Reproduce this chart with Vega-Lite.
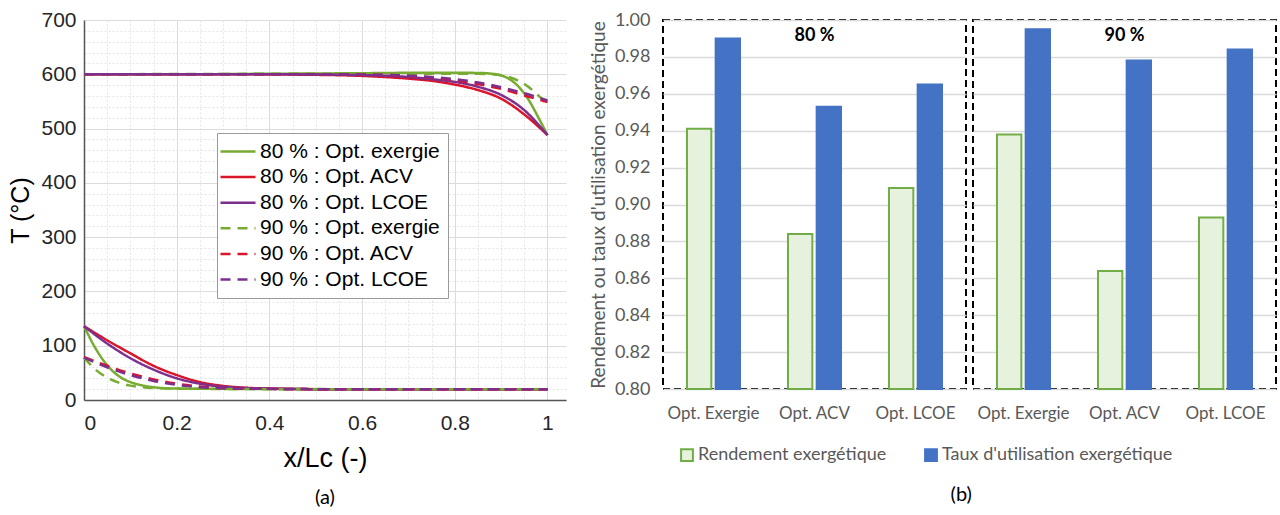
{
  "$schema": "https://vega.github.io/schema/vega-lite/v6.json",
  "background": "white",
  "padding": {"left": 8, "top": 9, "right": 0, "bottom": 0},
  "spacing": 23,
  "config": {"view": {"stroke": null}, "font": "Liberation Sans"},
  "resolve": {
    "scale": {"x": "independent", "y": "independent", "color": "independent", "strokeDash": "independent", "fill": "independent", "stroke": "independent", "xOffset": "independent"},
    "axis": {"x": "independent", "y": "independent"},
    "legend": {"color": "independent", "strokeDash": "independent", "fill": "independent", "stroke": "independent"}
  },
  "hconcat": [
    {
      "width": 482,
      "height": 380,
      "title": {"text": "(a)", "orient": "bottom", "anchor": "middle", "font": "Lato", "fontSize": 20, "fontWeight": "normal", "color": "#000000", "offset": 17},
      "data": {"values": [
        {"s": "80 % : Opt. exergie", "c": "hot", "x": 0, "T": 600},
        {"s": "80 % : Opt. exergie", "c": "hot", "x": 0.2, "T": 600},
        {"s": "80 % : Opt. exergie", "c": "hot", "x": 0.4, "T": 601},
        {"s": "80 % : Opt. exergie", "c": "hot", "x": 0.6, "T": 602},
        {"s": "80 % : Opt. exergie", "c": "hot", "x": 0.75, "T": 603},
        {"s": "80 % : Opt. exergie", "c": "hot", "x": 0.85, "T": 602.5},
        {"s": "80 % : Opt. exergie", "c": "hot", "x": 0.88, "T": 601},
        {"s": "80 % : Opt. exergie", "c": "hot", "x": 0.9, "T": 598},
        {"s": "80 % : Opt. exergie", "c": "hot", "x": 0.92, "T": 590},
        {"s": "80 % : Opt. exergie", "c": "hot", "x": 0.94, "T": 575},
        {"s": "80 % : Opt. exergie", "c": "hot", "x": 0.96, "T": 552},
        {"s": "80 % : Opt. exergie", "c": "hot", "x": 0.98, "T": 521},
        {"s": "80 % : Opt. exergie", "c": "hot", "x": 1, "T": 488},
        {"s": "80 % : Opt. exergie", "c": "cold", "x": 0, "T": 136},
        {"s": "80 % : Opt. exergie", "c": "cold", "x": 0.025, "T": 95},
        {"s": "80 % : Opt. exergie", "c": "cold", "x": 0.05, "T": 64},
        {"s": "80 % : Opt. exergie", "c": "cold", "x": 0.075, "T": 44},
        {"s": "80 % : Opt. exergie", "c": "cold", "x": 0.1, "T": 33},
        {"s": "80 % : Opt. exergie", "c": "cold", "x": 0.125, "T": 27},
        {"s": "80 % : Opt. exergie", "c": "cold", "x": 0.15, "T": 23.5},
        {"s": "80 % : Opt. exergie", "c": "cold", "x": 0.2, "T": 21},
        {"s": "80 % : Opt. exergie", "c": "cold", "x": 0.3, "T": 20.5},
        {"s": "80 % : Opt. exergie", "c": "cold", "x": 0.6, "T": 20},
        {"s": "80 % : Opt. exergie", "c": "cold", "x": 1, "T": 20},

        {"s": "80 % : Opt. ACV", "c": "hot", "x": 0, "T": 600},
        {"s": "80 % : Opt. ACV", "c": "hot", "x": 0.3, "T": 600},
        {"s": "80 % : Opt. ACV", "c": "hot", "x": 0.5, "T": 599},
        {"s": "80 % : Opt. ACV", "c": "hot", "x": 0.6, "T": 597},
        {"s": "80 % : Opt. ACV", "c": "hot", "x": 0.7, "T": 592},
        {"s": "80 % : Opt. ACV", "c": "hot", "x": 0.75, "T": 588},
        {"s": "80 % : Opt. ACV", "c": "hot", "x": 0.8, "T": 581},
        {"s": "80 % : Opt. ACV", "c": "hot", "x": 0.85, "T": 571},
        {"s": "80 % : Opt. ACV", "c": "hot", "x": 0.9, "T": 555},
        {"s": "80 % : Opt. ACV", "c": "hot", "x": 0.95, "T": 526},
        {"s": "80 % : Opt. ACV", "c": "hot", "x": 1, "T": 488},
        {"s": "80 % : Opt. ACV", "c": "cold", "x": 0, "T": 136},
        {"s": "80 % : Opt. ACV", "c": "cold", "x": 0.05, "T": 110},
        {"s": "80 % : Opt. ACV", "c": "cold", "x": 0.1, "T": 86},
        {"s": "80 % : Opt. ACV", "c": "cold", "x": 0.15, "T": 63},
        {"s": "80 % : Opt. ACV", "c": "cold", "x": 0.2, "T": 46},
        {"s": "80 % : Opt. ACV", "c": "cold", "x": 0.25, "T": 33},
        {"s": "80 % : Opt. ACV", "c": "cold", "x": 0.3, "T": 26},
        {"s": "80 % : Opt. ACV", "c": "cold", "x": 0.35, "T": 22.5},
        {"s": "80 % : Opt. ACV", "c": "cold", "x": 0.4, "T": 21},
        {"s": "80 % : Opt. ACV", "c": "cold", "x": 0.5, "T": 20},
        {"s": "80 % : Opt. ACV", "c": "cold", "x": 1, "T": 20},

        {"s": "80 % : Opt. LCOE", "c": "hot", "x": 0, "T": 600},
        {"s": "80 % : Opt. LCOE", "c": "hot", "x": 0.4, "T": 600},
        {"s": "80 % : Opt. LCOE", "c": "hot", "x": 0.6, "T": 598.5},
        {"s": "80 % : Opt. LCOE", "c": "hot", "x": 0.7, "T": 595},
        {"s": "80 % : Opt. LCOE", "c": "hot", "x": 0.75, "T": 591},
        {"s": "80 % : Opt. LCOE", "c": "hot", "x": 0.8, "T": 586},
        {"s": "80 % : Opt. LCOE", "c": "hot", "x": 0.85, "T": 577},
        {"s": "80 % : Opt. LCOE", "c": "hot", "x": 0.9, "T": 562},
        {"s": "80 % : Opt. LCOE", "c": "hot", "x": 0.95, "T": 534},
        {"s": "80 % : Opt. LCOE", "c": "hot", "x": 1, "T": 488},
        {"s": "80 % : Opt. LCOE", "c": "cold", "x": 0, "T": 136},
        {"s": "80 % : Opt. LCOE", "c": "cold", "x": 0.05, "T": 104},
        {"s": "80 % : Opt. LCOE", "c": "cold", "x": 0.1, "T": 77},
        {"s": "80 % : Opt. LCOE", "c": "cold", "x": 0.15, "T": 56},
        {"s": "80 % : Opt. LCOE", "c": "cold", "x": 0.2, "T": 40},
        {"s": "80 % : Opt. LCOE", "c": "cold", "x": 0.25, "T": 30},
        {"s": "80 % : Opt. LCOE", "c": "cold", "x": 0.3, "T": 24.5},
        {"s": "80 % : Opt. LCOE", "c": "cold", "x": 0.35, "T": 22},
        {"s": "80 % : Opt. LCOE", "c": "cold", "x": 0.4, "T": 21},
        {"s": "80 % : Opt. LCOE", "c": "cold", "x": 0.5, "T": 20},
        {"s": "80 % : Opt. LCOE", "c": "cold", "x": 1, "T": 20},

        {"s": "90 % : Opt. exergie", "c": "hot", "x": 0, "T": 600},
        {"s": "90 % : Opt. exergie", "c": "hot", "x": 0.6, "T": 601},
        {"s": "90 % : Opt. exergie", "c": "hot", "x": 0.85, "T": 601},
        {"s": "90 % : Opt. exergie", "c": "hot", "x": 0.88, "T": 600},
        {"s": "90 % : Opt. exergie", "c": "hot", "x": 0.9, "T": 598},
        {"s": "90 % : Opt. exergie", "c": "hot", "x": 0.92, "T": 594},
        {"s": "90 % : Opt. exergie", "c": "hot", "x": 0.94, "T": 587},
        {"s": "90 % : Opt. exergie", "c": "hot", "x": 0.96, "T": 576},
        {"s": "90 % : Opt. exergie", "c": "hot", "x": 0.98, "T": 561},
        {"s": "90 % : Opt. exergie", "c": "hot", "x": 1, "T": 544},
        {"s": "90 % : Opt. exergie", "c": "cold", "x": 0, "T": 78},
        {"s": "90 % : Opt. exergie", "c": "cold", "x": 0.025, "T": 56},
        {"s": "90 % : Opt. exergie", "c": "cold", "x": 0.05, "T": 41},
        {"s": "90 % : Opt. exergie", "c": "cold", "x": 0.075, "T": 32},
        {"s": "90 % : Opt. exergie", "c": "cold", "x": 0.1, "T": 26.5},
        {"s": "90 % : Opt. exergie", "c": "cold", "x": 0.125, "T": 23.5},
        {"s": "90 % : Opt. exergie", "c": "cold", "x": 0.15, "T": 22},
        {"s": "90 % : Opt. exergie", "c": "cold", "x": 0.2, "T": 21},
        {"s": "90 % : Opt. exergie", "c": "cold", "x": 0.4, "T": 20},
        {"s": "90 % : Opt. exergie", "c": "cold", "x": 1, "T": 20},

        {"s": "90 % : Opt. ACV", "c": "hot", "x": 0, "T": 600},
        {"s": "90 % : Opt. ACV", "c": "hot", "x": 0.5, "T": 600},
        {"s": "90 % : Opt. ACV", "c": "hot", "x": 0.6, "T": 599.5},
        {"s": "90 % : Opt. ACV", "c": "hot", "x": 0.7, "T": 597},
        {"s": "90 % : Opt. ACV", "c": "hot", "x": 0.75, "T": 594},
        {"s": "90 % : Opt. ACV", "c": "hot", "x": 0.8, "T": 589},
        {"s": "90 % : Opt. ACV", "c": "hot", "x": 0.85, "T": 582},
        {"s": "90 % : Opt. ACV", "c": "hot", "x": 0.9, "T": 573},
        {"s": "90 % : Opt. ACV", "c": "hot", "x": 0.95, "T": 561},
        {"s": "90 % : Opt. ACV", "c": "hot", "x": 1, "T": 549},
        {"s": "90 % : Opt. ACV", "c": "cold", "x": 0, "T": 79},
        {"s": "90 % : Opt. ACV", "c": "cold", "x": 0.05, "T": 63},
        {"s": "90 % : Opt. ACV", "c": "cold", "x": 0.1, "T": 49},
        {"s": "90 % : Opt. ACV", "c": "cold", "x": 0.15, "T": 38},
        {"s": "90 % : Opt. ACV", "c": "cold", "x": 0.2, "T": 30},
        {"s": "90 % : Opt. ACV", "c": "cold", "x": 0.25, "T": 25},
        {"s": "90 % : Opt. ACV", "c": "cold", "x": 0.3, "T": 22},
        {"s": "90 % : Opt. ACV", "c": "cold", "x": 0.4, "T": 20.5},
        {"s": "90 % : Opt. ACV", "c": "cold", "x": 0.5, "T": 20},
        {"s": "90 % : Opt. ACV", "c": "cold", "x": 1, "T": 20},

        {"s": "90 % : Opt. LCOE", "c": "hot", "x": 0, "T": 600},
        {"s": "90 % : Opt. LCOE", "c": "hot", "x": 0.5, "T": 600},
        {"s": "90 % : Opt. LCOE", "c": "hot", "x": 0.6, "T": 599.5},
        {"s": "90 % : Opt. LCOE", "c": "hot", "x": 0.7, "T": 597.5},
        {"s": "90 % : Opt. LCOE", "c": "hot", "x": 0.75, "T": 595},
        {"s": "90 % : Opt. LCOE", "c": "hot", "x": 0.8, "T": 591},
        {"s": "90 % : Opt. LCOE", "c": "hot", "x": 0.85, "T": 585},
        {"s": "90 % : Opt. LCOE", "c": "hot", "x": 0.9, "T": 576},
        {"s": "90 % : Opt. LCOE", "c": "hot", "x": 0.95, "T": 565},
        {"s": "90 % : Opt. LCOE", "c": "hot", "x": 1, "T": 552},
        {"s": "90 % : Opt. LCOE", "c": "cold", "x": 0, "T": 78},
        {"s": "90 % : Opt. LCOE", "c": "cold", "x": 0.05, "T": 60},
        {"s": "90 % : Opt. LCOE", "c": "cold", "x": 0.1, "T": 46},
        {"s": "90 % : Opt. LCOE", "c": "cold", "x": 0.15, "T": 35},
        {"s": "90 % : Opt. LCOE", "c": "cold", "x": 0.2, "T": 28},
        {"s": "90 % : Opt. LCOE", "c": "cold", "x": 0.25, "T": 23.5},
        {"s": "90 % : Opt. LCOE", "c": "cold", "x": 0.3, "T": 21.5},
        {"s": "90 % : Opt. LCOE", "c": "cold", "x": 0.4, "T": 20.5},
        {"s": "90 % : Opt. LCOE", "c": "cold", "x": 0.5, "T": 20},
        {"s": "90 % : Opt. LCOE", "c": "cold", "x": 1, "T": 20}
      ]},
      "resolve": {"axis": {"x": "independent", "y": "independent"}},
      "layer": [
        {
          "mark": {"type": "point", "opacity": 0},
          "encoding": {
            "x": {"field": "x", "type": "quantitative", "scale": {"domain": [0, 1.04], "nice": false},
              "axis": {"orient": "bottom", "values": [0.05, 0.1, 0.15, 0.25, 0.3, 0.35, 0.45, 0.5, 0.55, 0.65, 0.7, 0.75, 0.85, 0.9, 0.95], "grid": true, "gridColor": "#e4e4e4", "gridDash": [2, 2], "gridWidth": 1, "labels": false, "ticks": false, "domain": false, "title": null}},
            "y": {"field": "T", "type": "quantitative", "scale": {"domain": [0, 700], "nice": false},
              "axis": {"orient": "left", "values": [20, 40, 60, 80, 120, 140, 160, 180, 220, 240, 260, 280, 320, 340, 360, 380, 420, 440, 460, 480, 520, 540, 560, 580, 620, 640, 660, 680], "grid": true, "gridColor": "#e4e4e4", "gridDash": [2, 2], "gridWidth": 1, "labels": false, "ticks": false, "domain": false, "title": null}}
          }
        },
        {
          "mark": {"type": "line", "strokeWidth": 2.5, "interpolate": "monotone"},
          "encoding": {
            "x": {"field": "x", "type": "quantitative", "scale": {"domain": [0, 1.04], "nice": false},
              "axis": {"orient": "bottom", "values": [0, 0.2, 0.4, 0.6, 0.8, 1], "format": "~g", "grid": true, "gridColor": "#dcdcdc", "gridWidth": 1, "ticks": false, "domainColor": "#555555", "domainWidth": 1.5, "labelFont": "Liberation Sans", "labelFontSize": 21, "labelColor": "#262626", "labelPadding": 12, "title": "x/Lc (-)", "titleFont": "Liberation Sans", "titleFontSize": 27, "titleFontWeight": "normal", "titleColor": "#000000", "titlePadding": 12}},
            "y": {"field": "T", "type": "quantitative", "scale": {"domain": [0, 700], "nice": false},
              "axis": {"orient": "left", "values": [0, 100, 200, 300, 400, 500, 600, 700], "grid": true, "gridColor": "#dcdcdc", "gridWidth": 1, "ticks": false, "domainColor": "#555555", "domainWidth": 1.5, "labelFont": "Liberation Sans", "labelFontSize": 21, "labelColor": "#262626", "labelPadding": 8, "title": "T (°C)", "titleFont": "Liberation Sans", "titleFontSize": 25, "titleFontWeight": "normal", "titleColor": "#000000", "titlePadding": 7}},
            "detail": {"field": "c", "type": "nominal"},
            "color": {"field": "s", "type": "nominal",
              "scale": {"domain": ["80 % : Opt. exergie", "80 % : Opt. ACV", "80 % : Opt. LCOE", "90 % : Opt. exergie", "90 % : Opt. ACV", "90 % : Opt. LCOE"], "range": ["#77ac30", "#d9152b", "#7e2f8e", "#77ac30", "#d9152b", "#7e2f8e"]},
              "legend": {"orient": "none", "legendX": 133, "legendY": 113, "title": null, "symbolType": "M-3,0H4", "symbolSize": 100, "symbolStrokeWidth": 2.5, "labelFont": "Liberation Sans", "labelFontSize": 21, "labelColor": "#000000", "labelOffset": 14, "rowPadding": 3.6, "padding": 8, "strokeColor": "#9a9a9a", "fillColor": "#ffffff", "labelLimit": 400}},
            "strokeDash": {"field": "s", "type": "nominal",
              "scale": {"domain": ["80 % : Opt. exergie", "80 % : Opt. ACV", "80 % : Opt. LCOE", "90 % : Opt. exergie", "90 % : Opt. ACV", "90 % : Opt. LCOE"], "range": [[1, 0], [1, 0], [1, 0], [10, 7], [10, 7], [10, 7]]},
              "legend": {"orient": "none", "legendX": 133, "legendY": 113, "title": null, "symbolType": "M-3,0H4", "symbolSize": 100, "symbolStrokeWidth": 2.5, "labelFont": "Liberation Sans", "labelFontSize": 21, "labelColor": "#000000", "labelOffset": 14, "rowPadding": 3.6, "padding": 8, "strokeColor": "#9a9a9a", "fillColor": "#ffffff", "labelLimit": 400}}
          }
        }
      ]
    },
    {
      "data": {"values": [
        {"groupe": "80 %", "option": "Opt. Exergie", "mesure": "Rendement exergétique", "valeur": 0.941},
        {"groupe": "80 %", "option": "Opt. Exergie", "mesure": "Taux d'utilisation exergétique", "valeur": 0.990},
        {"groupe": "80 %", "option": "Opt. ACV", "mesure": "Rendement exergétique", "valeur": 0.884},
        {"groupe": "80 %", "option": "Opt. ACV", "mesure": "Taux d'utilisation exergétique", "valeur": 0.953},
        {"groupe": "80 %", "option": "Opt. LCOE", "mesure": "Rendement exergétique", "valeur": 0.909},
        {"groupe": "80 %", "option": "Opt. LCOE", "mesure": "Taux d'utilisation exergétique", "valeur": 0.965},
        {"groupe": "90 %", "option": "Opt. Exergie", "mesure": "Rendement exergétique", "valeur": 0.938},
        {"groupe": "90 %", "option": "Opt. Exergie", "mesure": "Taux d'utilisation exergétique", "valeur": 0.995},
        {"groupe": "90 %", "option": "Opt. ACV", "mesure": "Rendement exergétique", "valeur": 0.864},
        {"groupe": "90 %", "option": "Opt. ACV", "mesure": "Taux d'utilisation exergétique", "valeur": 0.978},
        {"groupe": "90 %", "option": "Opt. LCOE", "mesure": "Rendement exergétique", "valeur": 0.893},
        {"groupe": "90 %", "option": "Opt. LCOE", "mesure": "Taux d'utilisation exergétique", "valeur": 0.984}
      ]},
      "title": {"text": "(b)", "orient": "bottom", "anchor": "middle", "dx": 28, "font": "Lato", "fontSize": 20, "fontWeight": "normal", "color": "#000000", "offset": 20},
      "facet": {"column": {"field": "groupe", "type": "nominal", "header": null, "sort": ["80 %", "90 %"]}},
      "spacing": 5,
      "spec": {
        "width": 303,
        "height": 369,
        "view": {"stroke": "#000000", "strokeDash": [7, 4], "strokeWidth": 2},
        "layer": [
          {
            "mark": {"type": "bar", "strokeWidth": 2},
            "encoding": {
              "x": {"field": "option", "type": "nominal", "sort": ["Opt. Exergie", "Opt. ACV", "Opt. LCOE"],
                "scale": {"paddingInner": 0.475, "paddingOuter": 0.2375},
                "axis": {"labelAngle": 0, "ticks": false, "domain": false, "title": null, "labelFont": "Lato", "labelFontSize": 17, "labelColor": "#595959", "labelPadding": 14}},
              "xOffset": {"field": "mesure", "type": "nominal", "sort": ["Rendement exergétique", "Taux d'utilisation exergétique"], "scale": {"paddingInner": 0.15}},
              "y": {"field": "valeur", "type": "quantitative", "scale": {"domain": [0.8, 1.0], "nice": false, "zero": false},
                "axis": {"values": [0.8, 0.82, 0.84, 0.86, 0.88, 0.9, 0.92, 0.94, 0.96, 0.98, 1.0], "format": ".2f", "labelOverlap": false, "grid": true, "gridColor": "#d9d9d9", "gridWidth": 1.5, "ticks": false, "domain": false, "labelFont": "Lato", "labelFontSize": 18, "labelColor": "#595959", "labelPadding": 12, "title": "Rendement ou taux d'utilisation exergétique", "titleFont": "Lato", "titleFontSize": 19, "titleFontWeight": "normal", "titleColor": "#595959", "titlePadding": 6}},
              "y2": {"datum": 0.8},
              "fill": {"field": "mesure", "type": "nominal",
                "scale": {"domain": ["Rendement exergétique", "Taux d'utilisation exergétique"], "range": ["#e6f2dd", "#4472c4"]},
                "legend": {"orient": "none", "legendX": 15, "legendY": 426, "direction": "horizontal", "title": null, "symbolType": "square", "symbolSize": 140, "symbolStrokeWidth": 2, "labelFont": "Lato", "labelFontSize": 18, "labelColor": "#595959", "labelOffset": 2, "columnPadding": 34, "labelLimit": 400}},
              "stroke": {"field": "mesure", "type": "nominal",
                "scale": {"domain": ["Rendement exergétique", "Taux d'utilisation exergétique"], "range": ["#70ad47", "#4472c4"]},
                "legend": {"orient": "none", "legendX": 15, "legendY": 426, "direction": "horizontal", "title": null, "symbolType": "square", "symbolSize": 140, "symbolStrokeWidth": 2, "labelFont": "Lato", "labelFontSize": 18, "labelColor": "#595959", "labelOffset": 2, "columnPadding": 34, "labelLimit": 400}}
            }
          },
          {
            "transform": [{"filter": {"and": [{"field": "option", "equal": "Opt. ACV"}, {"field": "mesure", "equal": "Taux d'utilisation exergétique"}]}}],
            "mark": {"type": "text", "font": "Lato", "fontWeight": "bold", "fontSize": 18, "color": "#000000"},
            "encoding": {
              "x": {"field": "option", "type": "nominal", "sort": ["Opt. Exergie", "Opt. ACV", "Opt. LCOE"],
                "axis": {"labelAngle": 0, "ticks": false, "domain": false, "title": null, "labelFont": "Lato", "labelFontSize": 17, "labelColor": "#595959", "labelPadding": 14}},
              "y": {"datum": 0.9913, "type": "quantitative",
                "axis": {"values": [0.8, 0.82, 0.84, 0.86, 0.88, 0.9, 0.92, 0.94, 0.96, 0.98, 1.0], "format": ".2f", "labelOverlap": false, "grid": true, "gridColor": "#d9d9d9", "gridWidth": 1.5, "ticks": false, "domain": false, "labelFont": "Lato", "labelFontSize": 18, "labelColor": "#595959", "labelPadding": 12, "title": "Rendement ou taux d'utilisation exergétique", "titleFont": "Lato", "titleFontSize": 19, "titleFontWeight": "normal", "titleColor": "#595959", "titlePadding": 6}},
              "text": {"field": "groupe", "type": "nominal"}
            }
          }
        ]
      }
    }
  ]
}
